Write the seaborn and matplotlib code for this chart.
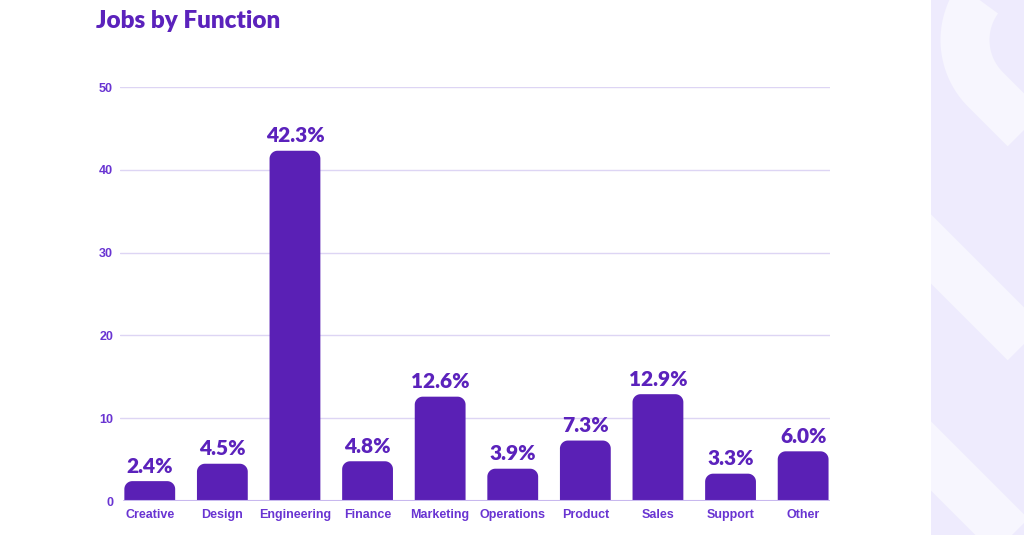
import matplotlib
matplotlib.use("Agg")
import matplotlib.pyplot as plt
import seaborn as sns
import pandas as pd
from matplotlib.patches import Rectangle, Polygon
from matplotlib.lines import Line2D
import numpy as np

categories = ["Creative", "Design", "Engineering", "Finance", "Marketing",
              "Operations", "Product", "Sales", "Support", "Other"]
values = [2.4, 4.5, 42.3, 4.8, 12.6, 3.9, 7.3, 12.9, 3.3, 6.0]
yticks = [0, 10, 20, 30, 40, 50]
title = "Jobs by Function"

BAR = "#5A20B5"
TXT = "#5B22BC"
TICK = "#6934D2"
GRID = "#DDD5F4"

sns.set_theme(style="white")
plt.rcParams["font.family"] = ["Liberation Sans", "DejaVu Sans"]

W, H = 1024, 535
fig = plt.figure(figsize=(W / 100, H / 100), dpi=100)
fig.patch.set_facecolor("white")

# decorative right panel (pixel coordinates, y down)
bg = fig.add_axes([0, 0, 1, 1], zorder=0)
bg.set_xlim(0, W)
bg.set_ylim(H, 0)
bg.axis("off")
panel = Rectangle((931, 0), W - 931, H, facecolor="#EEEBFD", edgecolor="none")
bg.add_patch(panel)
band = "#F7F6FE"
cx, cy, r = 1035, 40, 70
th = np.radians(np.linspace(270, 135, 60))
px = list(cx + r * np.cos(th)) + [1120]
py = list(cy + r * np.sin(th)) + [cy + r * np.sin(np.radians(135)) + (1120 - (cx + r * np.cos(np.radians(135))))]
lw_pt = 49 * 72 / 100
for xs, ys in [(px, py), ([931 - 60, 1120], [249 - 60, 249 + 189]), ([931 - 60, 1120], [456 - 60, 456 + 189])]:
    ln = Line2D(xs, ys, color=band, lw=lw_pt, solid_capstyle="butt", solid_joinstyle="round")
    bg.add_line(ln)
    ln.set_clip_path(panel)

# main chart
ax = fig.add_axes([120 / W, 1 - 501 / H, (830 - 120) / W, (501 - 87) / H], zorder=1)
ax.patch.set_alpha(0)
df = pd.DataFrame({"category": categories, "value": values})
sns.barplot(data=df, x="category", y="value", color=BAR, width=0.7, saturation=1, ax=ax)

ax.set_xlim(-0.41, 9.37)
ax.set_ylim(0, 50)

# round the top corners of the bars (single outline, no seams)
px_x = (9.37 + 0.41) / (830 - 120)
px_y = 50 / (501 - 87)
rad = 8
rx, ry = rad * px_x, rad * px_y
t = np.linspace(0, np.pi / 2, 16)
for p in list(ax.patches):
    x, w, h = p.get_x(), p.get_width(), p.get_height()
    p.remove()
    pts = [(x, 0), (x, h - ry)]
    pts += [(x + rx - rx * np.cos(a), h - ry + ry * np.sin(a)) for a in t]
    pts += [(x + w - rx + rx * np.sin(a), h - ry + ry * np.cos(a)) for a in t]
    pts += [(x + w, 0)]
    ax.add_patch(Polygon(pts, closed=True, facecolor=BAR, edgecolor="none", zorder=3))

for i, v in enumerate(values):
    ax.annotate(f"{v:.1f}%", (i, v), xytext=(0, 4), textcoords="offset points",
                ha="center", va="bottom", fontsize=15, fontweight="heavy",
                color=TXT, family=["Lato", "DejaVu Sans"], zorder=4)

ax.set_yticks(yticks)
ax.set_yticklabels([str(v) for v in yticks])
for v in yticks[1:]:
    ax.axhline(v, color=GRID, lw=1, zorder=1)
ax.axhline(0, color="#C8B8EE", lw=1.5, zorder=4, xmin=(124 - 120) / 710)

for s in ax.spines.values():
    s.set_visible(False)
ax.set_xlabel("")
ax.set_ylabel("")
ax.tick_params(axis="both", length=0, labelsize=9, labelcolor=TICK)
ax.tick_params(axis="y", pad=5)
ax.tick_params(axis="x", pad=6)
for lab in ax.get_xticklabels() + ax.get_yticklabels():
    lab.set_fontweight("bold")

fig.text(96 / W, 1 - 28 / H, title, fontsize=17.5, fontweight="heavy", color=TXT,
         family=["Lato", "DejaVu Sans"], ha="left", va="baseline")

fig.savefig("out.png", dpi=100, facecolor=fig.get_facecolor())
